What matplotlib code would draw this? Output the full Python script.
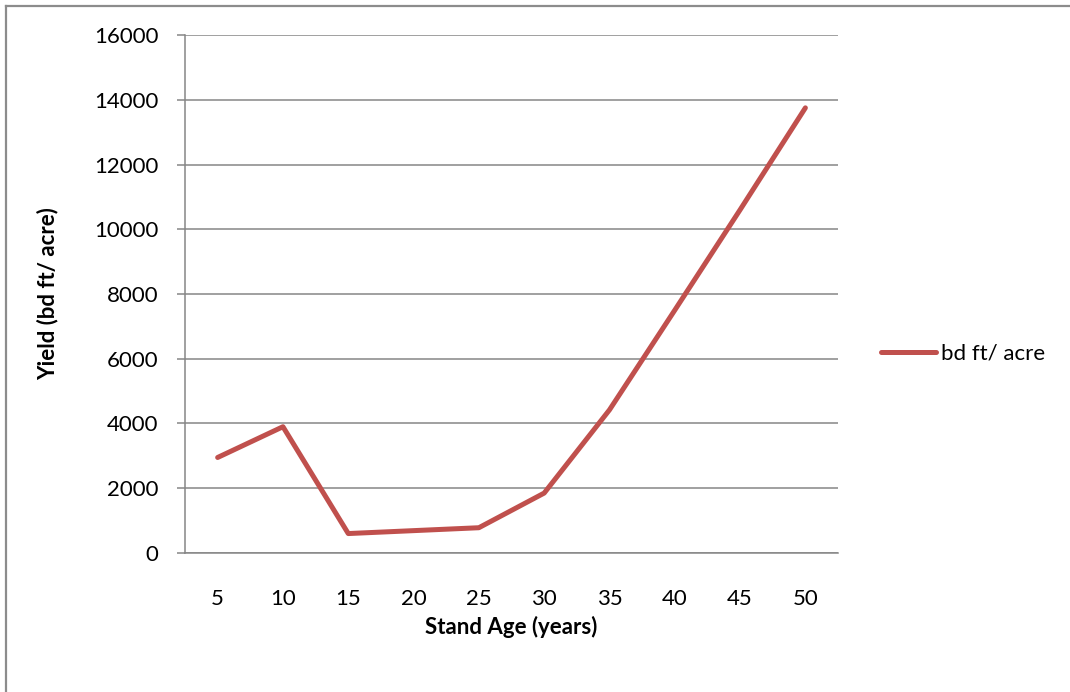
import matplotlib
matplotlib.use('Agg')
import matplotlib.pyplot as plt
from matplotlib.lines import Line2D

# data
ages = ['5', '10', '15', '20', '25', '30', '35', '40', '45', '50']
yield_bdft = [2950, 3900, 600, 690, 780, 1850, 4420, 7500, 10600, 13750]
series_label = 'bd ft/ acre'

line_color = '#C0504D'
grid_color = '#868686'

plt.rcParams['font.family'] = ['Lato', 'DejaVu Sans']

fig = plt.figure(figsize=(10.7, 6.92), dpi=100)
ax = fig.add_axes([0.1729, 0.2009, 0.6103, 0.7485])

x = list(range(len(ages)))
ax.plot(x, yield_bdft, color=line_color, linewidth=3.6, solid_capstyle='round',
        solid_joinstyle='round', label=series_label)

ax.set_xlim(-0.5, len(ages) - 0.5)
ax.set_ylim(0, 16000)
ax.set_yticks(range(0, 16001, 2000))
ax.set_xticks(x)
ax.set_xticklabels(ages)

ax.yaxis.grid(True, color=grid_color, linewidth=1.1)
ax.set_axisbelow(True)

for side in ['top', 'right']:
    ax.spines[side].set_visible(False)
for side in ['left', 'bottom']:
    ax.spines[side].set_color(grid_color)
    ax.spines[side].set_linewidth(1.1)

ax.tick_params(axis='y', length=6, width=1.1, color=grid_color, pad=13, labelsize=16)
ax.tick_params(axis='x', length=0, pad=26, labelsize=16)

ax.set_ylabel('Yield (bd ft/ acre)', fontsize=16, fontweight='bold', labelpad=26)
ax.set_xlabel('Stand Age (years)', fontsize=16, fontweight='bold', labelpad=5)

ax.legend(loc='center left', bbox_to_anchor=(1.035, 0.385), frameon=False,
          fontsize=16, handlelength=2.5, handletextpad=0.2)

# chart frame (top and left edges visible)
fig.add_artist(Line2D([0.0056, 1.0], [0.9913, 0.9913], color='#8c8c8c', linewidth=1.6,
                      transform=fig.transFigure))
fig.add_artist(Line2D([0.0056, 0.0056], [0.0, 0.9913], color='#8c8c8c', linewidth=1.6,
                      transform=fig.transFigure))

fig.savefig('out.png', dpi=100)
